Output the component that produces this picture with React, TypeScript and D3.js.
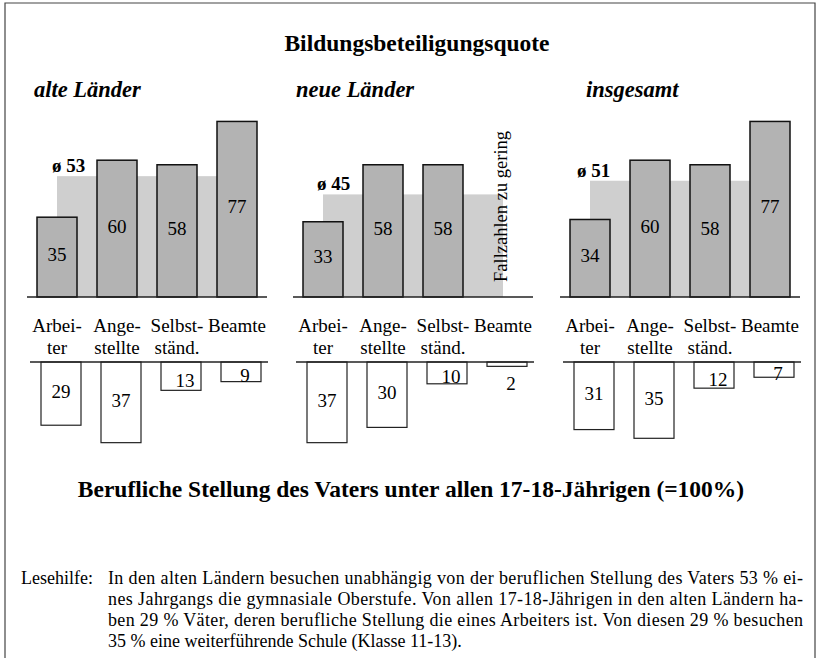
import React from "react";
import * as d3 from "d3";

// ---------- data ----------
const categories = ["Arbeiter", "Angestellte", "Selbständ.", "Beamte"];
const categoryLines = [["Arbei-", "ter"], ["Ange-", "stellte"], ["Selbst-", "ständ."], ["Beamte"]];
const panelTitles = ["alte Länder", "neue Länder", "insgesamt"];
const averages = [53, 45, 51];
const quoteAlt = [35, 60, 58, 77];
const quoteNeu = [33, 58, 58, null];
const quoteGesamt = [34, 60, 58, 77];
const shareAlt = [29, 37, 13, 9];
const shareNeu = [37, 30, 10, 2];
const shareGesamt = [31, 35, 12, 7];
const missingNote = "Fallzahlen zu gering";
const mainTitle = "Bildungsbeteiligungsquote";
const bottomTitle = "Berufliche Stellung des Vaters unter allen 17-18-Jährigen (=100%)";
const helpLabel = "Lesehilfe:";
const helpLines = [
  "In den alten Ländern besuchen unabhängig von der beruflichen Stellung des Vaters 53 % ei-",
  "nes Jahrgangs die gymnasiale Oberstufe. Von allen 17-18-Jährigen in den alten Ländern ha-",
  "ben 29 % Väter, deren berufliche Stellung die eines Arbeiters ist. Von diesen 29 % besuchen",
  "35 % eine weiterführende Schule (Klasse 11-13).",
];

const quotes = [quoteAlt, quoteNeu, quoteGesamt];
const shares = [shareAlt, shareNeu, shareGesamt];

// ---------- layout ----------
const W = 820;
const H = 658;
const FONT = "'Liberation Serif', 'Times New Roman', Times, serif";
const panelX0 = [27, 293, 560];
const panelTitleX = [34, 296, 586];
const avgLabelDx = [-5, -6, -13];
const DARK = "#b3b3b3";
const LIGHT = "#cfcfcf";

const yTop = d3.scaleLinear().domain([0, 100]).range([297, 69]);
const yBot = d3.scaleLinear().domain([0, 100]).range([362, 580]);

export default function App() {
  return (
    <svg
      width={W}
      height={H}
      style={{ position: "absolute", left: 0, top: 0, background: "#fff" }}
      fontFamily={FONT}
    >
      <rect x={0} y={0} width={W} height={H} fill="#fff" />
      {/* frame */}
      <path d={`M5,${H} L5,3 L815,3 L815,${H}`} fill="none" stroke="#444" strokeWidth={1.2} />

      <text x={417} y={51} textAnchor="middle" fontSize={23.5} fontWeight="bold">
        {mainTitle}
      </text>

      {panelX0.map((x0, p) => {
        const x = d3
          .scaleBand<string>()
          .domain(categories)
          .range([x0, x0 + 240])
          .paddingInner(1 / 3)
          .paddingOuter(1 / 6);
        const bw = x.bandwidth();
        const q = quotes[p];
        const s = shares[p];
        const firstC = (x(categories[0]) as number) + bw / 2;
        const lastC = (x(categories[categories.length - 1]) as number) + bw / 2;
        const avgY = yTop(averages[p]);
        return (
          <g key={p}>
            <text x={panelTitleX[p]} y={97} fontSize={22.5} fontWeight="bold" fontStyle="italic">
              {panelTitles[p]}
            </text>
            {/* average band */}
            <rect x={firstC} y={avgY} width={lastC - firstC} height={yTop(0) - avgY} fill={LIGHT} />
            <text x={firstC + avgLabelDx[p]} y={avgY - 4} fontSize={19} fontWeight="bold">
              {"ø " + averages[p]}
            </text>
            {/* upper bars */}
            {categories.map((c, i) => {
              const v = q[i];
              const bx = x(c) as number;
              if (v == null) {
                return (
                  <text
                    key={c}
                    transform={`translate(${bx + bw / 2 + 4},${yTop(0) - 15}) rotate(-90)`}
                    fontSize={18.5}
                  >
                    {missingNote}
                  </text>
                );
              }
              const top = yTop(v);
              const mid = (top + yTop(0)) / 2;
              return (
                <g key={c}>
                  <rect x={bx} y={top} width={bw} height={yTop(0) - top} fill={DARK} stroke="#111" strokeWidth={1.5} />
                  <text x={bx + bw / 2} y={mid + 4} textAnchor="middle" fontSize={19}>
                    {v}
                  </text>
                </g>
              );
            })}
            <line x1={x0} x2={x0 + 240} y1={yTop(0)} y2={yTop(0)} stroke="#222" strokeWidth={1.5} />
            {/* category labels */}
            {categories.map((c, i) => (
              <text key={c} x={(x(c) as number) + bw / 2} textAnchor="middle" fontSize={19}>
                {categoryLines[i].map((ln, k) => (
                  <tspan key={k} x={(x(c) as number) + bw / 2} y={332 + k * 22}>
                    {ln}
                  </tspan>
                ))}
              </text>
            ))}
            {/* lower bars */}
            {categories.map((c, i) => {
              const v = s[i];
              const bx = (x(c) as number) + 4;
              const h = yBot(v) - yBot(0);
              const mid = yBot(0) + h / 2;
              let ly = h > 40 ? mid - 2 + 6.5 : mid + 4 + 6.5;
              let lx = bx + bw / 2 + (h > 40 ? 0 : 4);
              if (h < 8) ly = yBot(v) + 24;
              return (
                <g key={c}>
                  <rect x={bx} y={yBot(0)} width={bw} height={h} fill="#fff" stroke="#222" strokeWidth={1.2} />
                  <text x={lx} y={ly} textAnchor="middle" fontSize={19}>
                    {v}
                  </text>
                </g>
              );
            })}
            <line x1={x0 + 3} x2={x0 + 241} y1={yBot(0)} y2={yBot(0)} stroke="#222" strokeWidth={1.5} />
          </g>
        );
      })}

      <text x={411} y={497} textAnchor="middle" fontSize={23.5} fontWeight="bold">
        {bottomTitle}
      </text>

      <text x={21} y={584} fontSize={18}>
        {helpLabel}
      </text>
      {helpLines.map((ln, i) => (
        <text
          key={i}
          x={108}
          y={584 + i * 21}
          fontSize={18}
          textLength={i < helpLines.length - 1 ? 695 : undefined}
          lengthAdjust="spacing"
        >
          {ln}
        </text>
      ))}
    </svg>
  );
}
